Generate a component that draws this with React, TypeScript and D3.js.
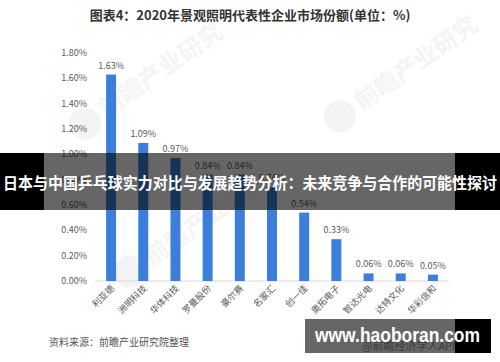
import React from "react";
import * as d3 from "d3";

const categories = ["利亚德", "洲明科技", "华体科技", "罗曼股份", "豪尔赛", "名家汇", "创一佳", "奥拓电子", "智达光电", "达特文化", "华彩信和"];
const values = [1.63, 1.09, 0.97, 0.84, 0.84, 0.74, 0.54, 0.33, 0.06, 0.06, 0.05];
const yTicks = [0, 0.2, 0.4, 0.6, 0.8, 1.0, 1.2, 1.4, 1.6, 1.8];
const title = "图表4：2020年景观照明代表性企业市场份额(单位：%)";
const banner = "日本与中国乒乓球实力对比与发展趋势分析：未来竞争与合作的可能性探讨";
const source = "资料来源：前瞻产业研究院整理";
const site = "www.haoboran.com";
const siteSub = "@前瞻经济学人APP";
const watermarks = [
  { x: 130, y: 92 },
  { x: 385, y: 85 },
  { x: 175, y: 240 },
];

const FONT = "'Noto Sans CJK SC', 'Noto Sans', sans-serif";

export default function App() {
  const W = 500, H = 362;
  const x = d3.scaleBand<string>().domain(categories).range([95, 449]).paddingInner(0.69).paddingOuter(0.345);
  const y = d3.scaleLinear().domain([0, 1.8]).range([281, 53]);
  const bw = x.bandwidth();
  return (
    <svg width={W} height={H} style={{ position: "absolute", left: 0, top: 0, background: "#fff" }} fontFamily={FONT}>
      <rect x={0} y={0} width={W} height={H} fill="#fff" />
      {watermarks.map((w, i) => (
        <g key={i} transform={`translate(${w.x},${w.y}) rotate(-35)`} opacity={0.04}>
          <circle cx={-55} cy={0} r={16} fill="#000" />
          <text x={-34} y={8} fontSize={24} fontWeight="bold" fill="#000">前瞻产业研究</text>
        </g>
      ))}
      <text x={250} y={20} textAnchor="middle" fontSize={13} fontWeight="bold" fill="#333">{title}</text>
      {yTicks.map((t) => (
        <text key={t} x={87} y={y(t) + 3} textAnchor="end" fontSize={9} fill="#595959">{t.toFixed(2) + "%"}</text>
      ))}
      <line x1={95} x2={449} y1={y(0)} y2={y(0)} stroke="#d9d9d9" strokeWidth={1} />
      {categories.map((c, i) => {
        const bx = x(c) as number;
        const cx = bx + bw / 2;
        return (
          <g key={c}>
            <rect x={bx} y={y(values[i])} width={bw} height={y(0) - y(values[i])} fill="#3c7fdb" />
            <text x={cx} y={y(values[i]) - 6} textAnchor="middle" fontSize={9} fill="#595959">{values[i].toFixed(2) + "%"}</text>
            <text transform={`translate(${cx + 4},${289}) rotate(-45)`} textAnchor="end" fontSize={9} fill="#595959">{c}</text>
          </g>
        );
      })}
      {/* overlay banner */}
      <rect x={0} y={153} width={44} height={57} fill="#000" />
      <rect x={455} y={153} width={45} height={57} fill="#000" />
      <rect x={44} y={153} width={411} height={57} fill="#000" opacity={0.6} />
      <text x={250} y={189} textAnchor="middle" fontSize={15.5} fontWeight="bold" fill="#fff" textLength={494} lengthAdjust="spacingAndGlyphs">{banner}</text>
      <text x={49} y={346} fontSize={10} fill="#555">{source}</text>
      {/* site box */}
      <rect x={305} y={319} width={150} height={34} fill="#666" />
      <text x={362} y={350} fontSize={11} fill="#3a3a3a">{siteSub}</text>
      <rect x={455} y={319} width={36} height={34} fill="#000" />
      <text x={315} y={342} fontSize={20} fontWeight="bold" fill="#fff" fontFamily="'Liberation Sans', Arial, sans-serif" textLength={165} lengthAdjust="spacingAndGlyphs">{site}</text>
    </svg>
  );
}
